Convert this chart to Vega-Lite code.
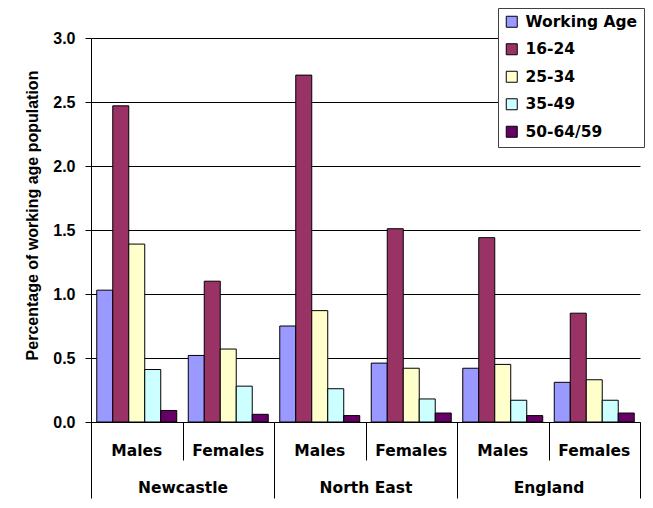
{
  "$schema": "https://vega.github.io/schema/vega-lite/v6.json",
  "width": 549,
  "height": 384,
  "autosize": "none",
  "padding": {"left": 91, "top": 38, "right": 13, "bottom": 86},
  "background": "white",
  "config": {"view": {"stroke": null}, "font": "DejaVu Sans"},
  "data": {
    "values": [
      {"group": "Newcastle|Males", "age": "Working Age", "value": 1.03},
      {"group": "Newcastle|Males", "age": "16-24", "value": 2.47},
      {"group": "Newcastle|Males", "age": "25-34", "value": 1.39},
      {"group": "Newcastle|Males", "age": "35-49", "value": 0.41},
      {"group": "Newcastle|Males", "age": "50-64/59", "value": 0.09},
      {"group": "Newcastle|Females", "age": "Working Age", "value": 0.52},
      {"group": "Newcastle|Females", "age": "16-24", "value": 1.10},
      {"group": "Newcastle|Females", "age": "25-34", "value": 0.57},
      {"group": "Newcastle|Females", "age": "35-49", "value": 0.28},
      {"group": "Newcastle|Females", "age": "50-64/59", "value": 0.06},
      {"group": "North East|Males", "age": "Working Age", "value": 0.75},
      {"group": "North East|Males", "age": "16-24", "value": 2.71},
      {"group": "North East|Males", "age": "25-34", "value": 0.87},
      {"group": "North East|Males", "age": "35-49", "value": 0.26},
      {"group": "North East|Males", "age": "50-64/59", "value": 0.05},
      {"group": "North East|Females", "age": "Working Age", "value": 0.46},
      {"group": "North East|Females", "age": "16-24", "value": 1.51},
      {"group": "North East|Females", "age": "25-34", "value": 0.42},
      {"group": "North East|Females", "age": "35-49", "value": 0.18},
      {"group": "North East|Females", "age": "50-64/59", "value": 0.07},
      {"group": "England|Males", "age": "Working Age", "value": 0.42},
      {"group": "England|Males", "age": "16-24", "value": 1.44},
      {"group": "England|Males", "age": "25-34", "value": 0.45},
      {"group": "England|Males", "age": "35-49", "value": 0.17},
      {"group": "England|Males", "age": "50-64/59", "value": 0.05},
      {"group": "England|Females", "age": "Working Age", "value": 0.31},
      {"group": "England|Females", "age": "16-24", "value": 0.85},
      {"group": "England|Females", "age": "25-34", "value": 0.33},
      {"group": "England|Females", "age": "35-49", "value": 0.17},
      {"group": "England|Females", "age": "50-64/59", "value": 0.07}
    ]
  },
  "layer": [
    {
      "mark": {"type": "bar", "stroke": "#000000", "strokeWidth": 1},
      "encoding": {
        "x": {
          "field": "group",
          "type": "nominal",
          "sort": ["Newcastle|Males", "Newcastle|Females", "North East|Males", "North East|Females", "England|Males", "England|Females"],
          "scale": {"paddingInner": 0, "paddingOuter": 0},
          "axis": {
            "title": null,
            "orient": "bottom",
            "ticks": false,
            "domain": false,
            "labelAngle": 0,
            "labelExpr": "split(datum.value, '|')[1]",
            "labelFont": "DejaVu Sans",
            "labelFontSize": 15.5,
            "labelFontWeight": "bold",
            "labelColor": "black",
            "labelBaseline": "middle",
            "labelPadding": 28
          }
        },
        "xOffset": {
          "field": "age",
          "type": "nominal",
          "sort": ["Working Age", "16-24", "25-34", "35-49", "50-64/59"],
          "scale": {"paddingInner": 0, "paddingOuter": 0.36}
        },
        "y": {
          "field": "value",
          "type": "quantitative",
          "scale": {"domain": [0, 3], "nice": false},
          "axis": {
            "title": "Percentage of working age population",
            "values": [0, 0.5, 1, 1.5, 2, 2.5, 3],
            "format": ".1f",
            "grid": true,
            "gridColor": "black",
            "gridWidth": 1,
            "domainColor": "black",
            "tickColor": "black",
            "tickSize": 6,
            "labelFont": "Liberation Sans",
            "labelFontSize": 16,
            "labelFontWeight": "bold",
            "labelColor": "black",
            "labelPadding": 10,
            "titleFont": "Liberation Sans",
            "titleFontSize": 16,
            "titleFontWeight": "bold",
            "titleColor": "black",
            "titlePadding": 12,
            "titleY": 177
          }
        },
        "color": {
          "field": "age",
          "type": "nominal",
          "sort": ["Working Age", "16-24", "25-34", "35-49", "50-64/59"],
          "scale": {
            "domain": ["Working Age", "16-24", "25-34", "35-49", "50-64/59"],
            "range": ["#9999FF", "#993366", "#FFFFCC", "#CCFFFF", "#660066"]
          },
          "legend": {
            "title": null,
            "orient": "none",
            "legendX": 407,
            "legendY": -30,
            "direction": "vertical",
            "fillColor": "white",
            "strokeColor": "#404040",
            "padding": 6,
            "symbolType": "square",
            "symbolSize": 121,
            "symbolStrokeColor": "black",
            "symbolStrokeWidth": 1,
            "labelFont": "DejaVu Sans",
            "labelFontSize": 15.5,
            "labelFontWeight": "bold",
            "labelColor": "black",
            "labelOffset": 6,
            "rowPadding": 10.5
          }
        }
      }
    },
    {
      "data": {"values": [{"p": 0}]},
      "mark": {"type": "rule", "opacity": 0},
      "encoding": {
        "x": {
          "field": "p",
          "type": "quantitative",
          "scale": {"domain": [0, 6], "nice": false, "zero": false},
          "axis": {
            "orient": "bottom",
            "title": null,
            "values": [0, 1, 2, 3, 4, 5, 6],
            "grid": false,
            "domain": true,
            "domainColor": "black",
            "tickColor": "black",
            "tickSize": {"condition": {"test": "datum.value % 2 == 0", "value": 76}, "value": 38},
            "labelExpr": "datum.value == 1 ? 'Newcastle' : datum.value == 3 ? 'North East' : datum.value == 5 ? 'England' : ''",
            "labelFont": "DejaVu Sans",
            "labelFontSize": 15.5,
            "labelFontWeight": "bold",
            "labelColor": "black",
            "labelPadding": 20,
            "labelFlush": false,
            "labelOverlap": false,
            "labelBound": false
          }
        }
      }
    }
  ],
  "resolve": {"scale": {"x": "independent"}, "axis": {"x": "independent"}}
}
